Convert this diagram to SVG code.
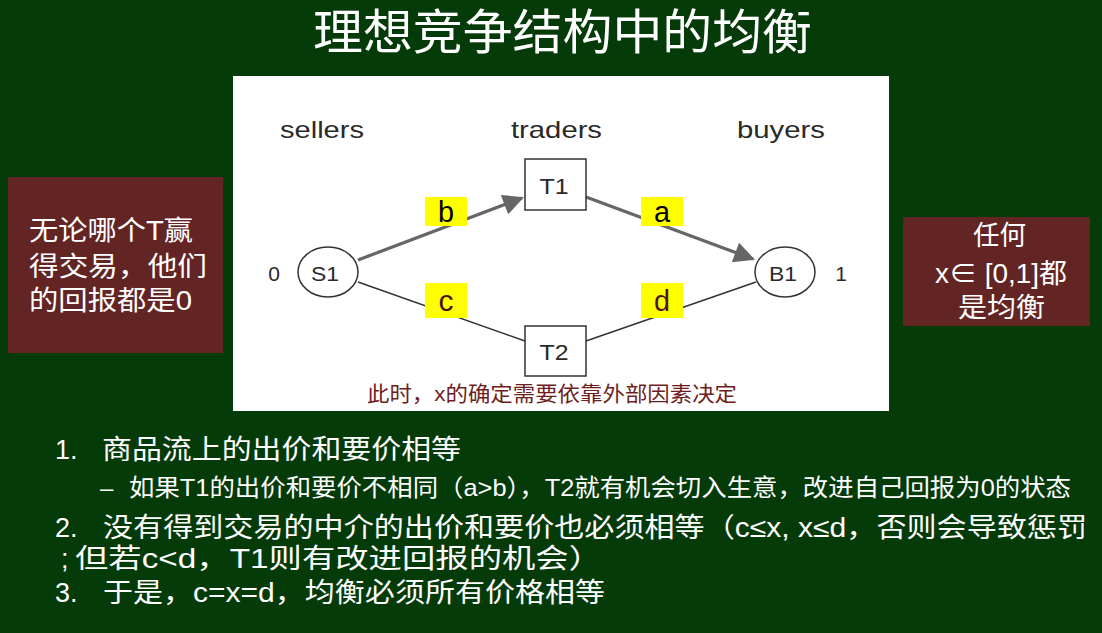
<svg xmlns="http://www.w3.org/2000/svg" width="1102" height="633" viewBox="0 0 1102 633">
  <defs>
    <style>
      .zh { font-family: "Liberation Sans", "Noto Sans CJK SC", sans-serif; }
      .white { fill: #ffffff; }
      .note { fill: #632523; }
      .diag { font-family: "Liberation Sans", Arial, sans-serif; fill: #2a2a2a; }
      .box { fill: #ffffff; stroke: #333333; stroke-width: 1.5; }
      .tag { fill: #ffff00; }
      .tagtext { font-family: "Liberation Sans", Arial, sans-serif; font-size: 30px; text-anchor: middle; }
      .thick { stroke: #666666; stroke-width: 3.2; fill: none; }
      .thin { stroke: #333333; stroke-width: 1.5; fill: none; }
    </style>
    <marker id="arrow" viewBox="0 0 10 10" refX="9" refY="5" markerWidth="7" markerHeight="6.5" markerUnits="strokeWidth" orient="auto">
      <path d="M0,0 L10,5 L0,10 z" fill="#666666"/>
    </marker>
  </defs>

  <!-- slide background -->
  <rect x="0" y="0" width="1102" height="633" fill="#053a09"/>

  <!-- title -->
  <text class="zh white" x="313" y="49" font-size="48" textLength="499" lengthAdjust="spacingAndGlyphs">理想竞争结构中的均衡</text>

  <!-- white figure panel -->
  <rect x="233" y="76" width="656" height="335" fill="#ffffff"/>

  <!-- column headings -->
  <text class="diag" x="280" y="138" font-size="24" textLength="84" lengthAdjust="spacingAndGlyphs">sellers</text>
  <text class="diag" x="511" y="138" font-size="24" textLength="91" lengthAdjust="spacingAndGlyphs">traders</text>
  <text class="diag" x="737" y="138" font-size="24" textLength="88" lengthAdjust="spacingAndGlyphs">buyers</text>

  <!-- connectors -->
  <g id="connectors">
    <line class="thick" x1="358" y1="260" x2="522" y2="198" marker-end="url(#arrow)"/>
    <line class="thick" x1="586" y1="197" x2="753" y2="259" marker-end="url(#arrow)"/>
    <line class="thin" x1="358" y1="282" x2="525" y2="341"/>
    <line class="thin" x1="586" y1="341" x2="756" y2="282"/>
  </g>

  <!-- edge price tags -->
  <g id="tag-b">
    <rect class="tag" x="425" y="197" width="42" height="29"/>
    <text class="tagtext" x="446" y="222" fill="#000000" textLength="16" lengthAdjust="spacingAndGlyphs">b</text>
  </g>
  <g id="tag-a">
    <rect class="tag" x="641" y="197" width="42" height="29"/>
    <text class="tagtext" x="662" y="222" fill="#000000" textLength="16" lengthAdjust="spacingAndGlyphs">a</text>
  </g>
  <g id="tag-c">
    <rect class="tag" x="425" y="283" width="42" height="35"/>
    <text class="tagtext" x="446" y="311" fill="#4a1410" textLength="15" lengthAdjust="spacingAndGlyphs">c</text>
  </g>
  <g id="tag-d">
    <rect class="tag" x="641" y="283" width="42" height="35"/>
    <text class="tagtext" x="662" y="311" fill="#4a1410" textLength="16" lengthAdjust="spacingAndGlyphs">d</text>
  </g>

  <!-- seller S1 with value 0 -->
  <g id="S1">
    <text class="diag" x="274" y="281" font-size="21" text-anchor="middle">0</text>
    <ellipse cx="328" cy="272" rx="30" ry="25" fill="#ffffff" stroke="#333333" stroke-width="1.5"/>
    <text class="diag" x="325" y="281" font-size="21" text-anchor="middle" textLength="28" lengthAdjust="spacingAndGlyphs">S1</text>
  </g>

  <!-- trader T1 -->
  <g id="T1">
    <rect class="box" x="525" y="159" width="61" height="51"/>
    <text class="diag" x="554" y="194" font-size="22" text-anchor="middle" textLength="29" lengthAdjust="spacingAndGlyphs">T1</text>
  </g>

  <!-- trader T2 -->
  <g id="T2">
    <rect class="box" x="525" y="326" width="61" height="50"/>
    <text class="diag" x="554" y="360" font-size="22" text-anchor="middle" textLength="29" lengthAdjust="spacingAndGlyphs">T2</text>
  </g>

  <!-- buyer B1 with value 1 -->
  <g id="B1">
    <ellipse cx="785" cy="272" rx="30" ry="25" fill="#ffffff" stroke="#333333" stroke-width="1.5"/>
    <text class="diag" x="783" y="281" font-size="21" text-anchor="middle" textLength="28" lengthAdjust="spacingAndGlyphs">B1</text>
    <text class="diag" x="841" y="281" font-size="21" text-anchor="middle">1</text>
  </g>

  <!-- caption under the figure -->
  <text class="zh" x="367" y="401" font-size="21" fill="#6e1e1e" textLength="370" lengthAdjust="spacingAndGlyphs">此时，x的确定需要依靠外部因素决定</text>

  <!-- left note -->
  <g id="note-left">
    <rect class="note" x="8" y="177" width="215" height="176"/>
    <text class="zh white" x="29" y="240" font-size="27" textLength="164" lengthAdjust="spacingAndGlyphs">无论哪个T赢</text>
    <text class="zh white" x="29" y="276" font-size="27" textLength="178" lengthAdjust="spacingAndGlyphs">得交易，他们</text>
    <text class="zh white" x="29" y="310" font-size="27" textLength="163" lengthAdjust="spacingAndGlyphs">的回报都是0</text>
  </g>

  <!-- right note -->
  <g id="note-right">
    <rect class="note" x="903" y="217" width="187" height="109"/>
    <text class="zh white" x="973" y="245" font-size="27" textLength="53" lengthAdjust="spacingAndGlyphs">任何</text>
    <text class="zh white" x="935" y="283" font-size="27" textLength="132" lengthAdjust="spacingAndGlyphs">x∈ [0,1]都</text>
    <text class="zh white" x="958" y="317" font-size="27" textLength="87" lengthAdjust="spacingAndGlyphs">是均衡</text>
  </g>

  <!-- bullet list -->
  <g id="bullets">
    <text class="zh white" x="55" y="459" font-size="27">1.</text>
    <text class="zh white" x="102" y="459" font-size="27" textLength="359" lengthAdjust="spacingAndGlyphs">商品流上的出价和要价相等</text>
    <text class="zh white" x="100" y="496" font-size="24">–</text>
    <text class="zh white" x="129" y="496" font-size="24" textLength="942" lengthAdjust="spacingAndGlyphs">如果T1的出价和要价不相同（a&gt;b），T2就有机会切入生意，改进自己回报为0的状态</text>
    <text class="zh white" x="55" y="537" font-size="27">2.</text>
    <text class="zh white" x="103" y="537" font-size="27" textLength="984" lengthAdjust="spacingAndGlyphs">没有得到交易的中介的出价和要价也必须相等（c≤x, x≤d，否则会导致惩罚</text>
    <text class="zh white" x="61" y="568" font-size="27">;</text>
    <text class="zh white" x="75" y="568" font-size="27" textLength="527" lengthAdjust="spacingAndGlyphs">但若c&lt;d，T1则有改进回报的机会）</text>
    <text class="zh white" x="55" y="602" font-size="27">3.</text>
    <text class="zh white" x="103" y="602" font-size="27" textLength="502" lengthAdjust="spacingAndGlyphs">于是，c=x=d，均衡必须所有价格相等</text>
  </g>
</svg>
